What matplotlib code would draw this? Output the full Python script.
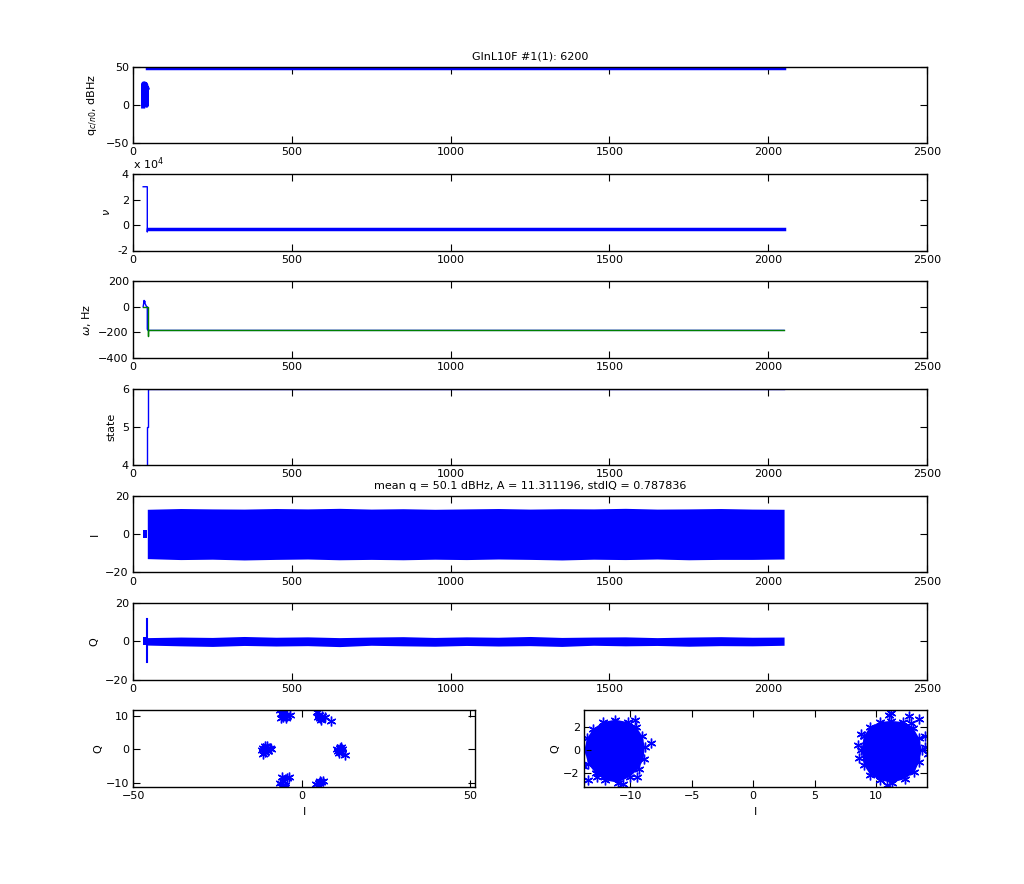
import numpy as np
import matplotlib
matplotlib.use('Agg')
import matplotlib.pyplot as plt
from matplotlib.ticker import FuncFormatter

# ---- data ----
title_top = 'GlnL10F #1(1): 6200'
title_iq = 'mean q = 50.1 dBHz, A = 11.311196, stdIQ = 0.787836'

# q c/n0 (dBHz): acquisition part, then tracking
q_t = [32, 33, 34, 35, 36, 37, 38, 39, 40, 41, 42, 43, 44, 45]
q_v = [-2, 28, 0, 27, 1, 28, 0, 26, 2, 27, 22, -1, 23, 22]
q_trk_t = [45, 2050]
q_trk_v = [48.5, 48.5]

# nu
nu_t = [32, 45, 45, 46, 2050]
nu_v = [30000, 30000, -5500, -3000, -3000]

# omega, Hz (blue = raw, green = filtered)
w_t = [32, 35, 36, 37, 38, 39, 41, 43, 45, 45, 47, 2050]
w_v = [0, 50, 35, 45, 25, 20, 10, 0, 0, -175, -185, -185]
wf_t = [32, 46, 46, 47, 47, 2050]
wf_v = [0, 0, -230, -230, -184, -184]

# tracking state
st_t = [32, 45, 45, 48, 48, 2050]
st_v = [3, 3, 5, 5, 6, 6]

# I / Q envelopes
env_t = [45, 150, 250, 350, 450, 550, 650, 750, 850, 950, 1050,
         1150, 1250, 1350, 1450, 1550, 1650, 1750, 1850, 1950, 2050]
i_acq_t = [32, 45]
i_acq_hi = [2, 2]
i_acq_lo = [-2, -2]
i_hi = [13.0, 13.4, 13.2, 13.1, 13.4, 13.2, 13.5, 13.1, 13.3, 13.0, 13.2,
        13.4, 13.1, 13.3, 13.2, 13.5, 13.1, 13.2, 13.4, 13.1, 13.0]
i_lo = [-12.8, -13.3, -13.1, -13.5, -13.2, -13.0, -13.4, -13.2, -13.4, -13.1, -13.3,
        -13.0, -13.2, -13.5, -13.1, -13.3, -13.0, -13.4, -13.2, -13.2, -13.0]
q_hi = [2.0, 2.3, 2.1, 2.6, 2.2, 2.4, 2.0, 2.3, 2.5, 2.1, 2.4,
        2.2, 2.6, 2.1, 2.3, 2.4, 2.0, 2.3, 2.5, 2.2, 2.3]
q_lo = [-1.9, -2.3, -2.6, -2.1, -2.4, -2.2, -2.7, -2.0, -2.3, -2.5, -2.1,
        -2.4, -2.2, -2.6, -2.0, -2.3, -2.1, -2.5, -2.2, -2.3, -2.0]
q_acq_t = [32, 45]
q_acq_hi = [2.3, 2.3]
q_acq_lo = [-1.8, -1.8]
q_spike_t = [45, 45]
q_spike_v = [-11, 12]

# constellation during acquisition (clusters of '*')
acq_I = [-11.5, -11, -10.5, -10, -9.5, -9, -10.8, -11.6, -10.2, -11.8,
         -6.5, -6, -5.5, -5, -4.5, -3.5, -6.3, -5.2, -5.8, -4.8,
         4.5, 5.2, 5.5, 6, 6.8, 5.6, 8.6, 4.9,
         10.3, 10.8, 11.2, 11.8, 12, 11, 12.9, 11.5,
         -6.5, -6, -5.5, -5, -4.5, -3.8, -6.2, -5, -5.8,
         4.3, 5, 5.5, 6.2, 4.8, 5.8]
acq_Q = [0.5, 1, 0, -0.5, 0.3, 0, -0.7, -1.5, 0.9, -0.3,
         11.8, 10.5, 9.5, 10.2, 9.8, 10.3, 9.4, 11, 10.8, 9.2,
         11.2, 10.3, 9.2, 9.8, 9.7, 8.6, 8.4, 9.6,
         0.2, -0.5, 0.5, 0, -0.8, -1, -1.7, 0.8,
         -10, -8.2, -9.5, -10.5, -8.5, -8.3, -11, -11.3, -10.8,
         -10.3, -10, -9.5, -9.3, -10.8, -9.8]

# constellation during tracking: blob outlines + stray points
blobL_I = [-13.5, -13.0, -12.2, -11.2, -10.2, -9.5, -9.0, -8.8, -8.9, -9.3,
           -10.0, -11.0, -12.0, -12.8, -13.4, -13.7]
blobL_Q = [1.0, 1.8, 2.4, 2.6, 2.4, 2.0, 1.2, 0.3, -0.8, -1.6,
           -2.3, -2.8, -2.6, -2.0, -1.2, 0.0]
blobR_I = [9.0, 9.5, 10.3, 11.2, 12.2, 13.0, 13.5, 13.7, 13.5, 13.1,
           12.3, 11.3, 10.3, 9.5, 9.0, 8.8]
blobR_Q = [1.2, 2.0, 2.4, 2.5, 2.4, 1.9, 1.0, 0.0, -1.0, -1.9,
           -2.5, -2.8, -2.6, -2.1, -1.3, 0.0]
stray_I = [-9.6, -8.3, -13.4, -12.7, -9.4, -13.8, -14.0, -10.6,
           11.2, 11.0, 12.7, 13.5, 14.0, 14.2, 14.0, 8.5, 8.6, 10.9, 12.8, 8.8]
stray_Q = [2.6, 0.6, -2.6, -2.3, -2.3, -1.4, 0.0, -2.9,
           3.2, 3.0, 2.9, 2.7, 1.2, -0.3, 0.3, 0.4, -0.7, -3.0, 2.3, 1.4]

# ---- figure ----
W, H = 1024, 884
fig = plt.figure(figsize=(W / 100, H / 100), dpi=100)
plt.rcParams['font.size'] = 8

BLUE = (0, 0, 1)
GREEN = (0, 0.5, 0)
STAR = (6, 2, 0)  # asterisk, like matlab '*'


def rect(l, t, r, b):
    return [l / W, 1 - b / H, (r - l) / W, (b - t) / H]


def style(ax):
    ax.tick_params(direction='in', top=True, right=True, length=5, width=0.8,
                   labelsize=8, pad=3)
    for s in ax.spines.values():
        s.set_linewidth(1.0)
        s.set_zorder(5)


axes = []
for k in range(6):
    top = 66.7 + k * 107.3
    ax = fig.add_axes(rect(133, top, 927, top + 76.5))
    ax.set_xlim(0, 2500)
    ax.set_xticks([0, 500, 1000, 1500, 2000, 2500])
    style(ax)
    axes.append(ax)

ax1, ax2, ax3, ax4, ax5, ax6 = axes

ax1.plot(q_t, q_v, color=BLUE, lw=3)
ax1.plot(q_trk_t, q_trk_v, color=BLUE, lw=2.5)
ax1.set_ylim(-50, 50)
ax1.set_yticks([-50, 0, 50])
ax1.set_ylabel(r'q$_{c/n0}$, dBHz')
ax1.set_title(title_top, fontsize=8, pad=5)

ax2.plot(nu_t, nu_v, color=BLUE, lw=1)
ax2.plot(nu_t[3:], nu_v[3:], color=BLUE, lw=2.5)
ax2.set_ylim(-20000, 40000)
ax2.set_yticks([-20000, 0, 20000, 40000])
ax2.yaxis.set_major_formatter(FuncFormatter(lambda v, p: '%g' % (v / 1e4)))
ax2.set_ylabel(r'$\nu$')
ax2.text(0.0, 1.02, r'x 10$^4$', transform=ax2.transAxes, ha='left', va='bottom',
         fontsize=8)

ax3.plot(w_t, w_v, color=BLUE, lw=1)
ax3.plot(wf_t, wf_v, color=GREEN, lw=1)
ax3.set_ylim(-400, 200)
ax3.set_yticks([-400, -200, 0, 200])
ax3.set_ylabel(r'$\omega$, Hz')

ax4.plot(st_t, st_v, color=BLUE, lw=1)
ax4.set_ylim(4, 6)
ax4.set_yticks([4, 5, 6])
ax4.set_ylabel('state')

ax5.fill_between(i_acq_t, i_acq_lo, i_acq_hi, color=BLUE, lw=0)
ax5.fill_between(env_t, i_lo, i_hi, color=BLUE, lw=0)
ax5.set_ylim(-20, 20)
ax5.set_yticks([-20, 0, 20])
ax5.set_ylabel('I')
ax5.set_title(title_iq, fontsize=8, pad=5)

ax6.fill_between(q_acq_t, q_acq_lo, q_acq_hi, color=BLUE, lw=0)
ax6.fill_between(env_t, q_lo, q_hi, color=BLUE, lw=0)
ax6.plot(q_spike_t, q_spike_v, color=BLUE, lw=1.5)
ax6.set_ylim(-20, 20)
ax6.set_yticks([-20, 0, 20])
ax6.set_ylabel('Q')

axL = fig.add_axes(rect(133.3, 710, 475, 787))
style(axL)
axL.plot(acq_I, acq_Q, ls='none', marker=STAR, color=BLUE, ms=7, mew=1)
axL.set_xlim(-50, 51.4)
axL.set_ylim(-11.2, 11.7)
axL.set_xticks([-50, 0, 50])
axL.set_yticks([-10, 0, 10])
axL.set_xlabel('I', labelpad=4)
axL.set_ylabel('Q', labelpad=2)

axR = fig.add_axes(rect(584, 710, 926.7, 787))
style(axR)
axR.fill(blobL_I, blobL_Q, color=BLUE, lw=0)
axR.fill(blobR_I, blobR_Q, color=BLUE, lw=0)
for bi, bq in [(blobL_I, blobL_Q), (blobR_I, blobR_Q), (stray_I, stray_Q)]:
    axR.plot(bi, bq, ls='none', marker=STAR, color=BLUE, ms=7, mew=1)
axR.set_xlim(-13.74, 14.1)
axR.set_ylim(-3.17, 3.43)
axR.set_xticks([-10, -5, 0, 5, 10])
axR.set_yticks([-2, 0, 2])
axR.set_xlabel('I', labelpad=4)
axR.set_ylabel('Q', labelpad=2)

fig.savefig('out.png', dpi=100)
